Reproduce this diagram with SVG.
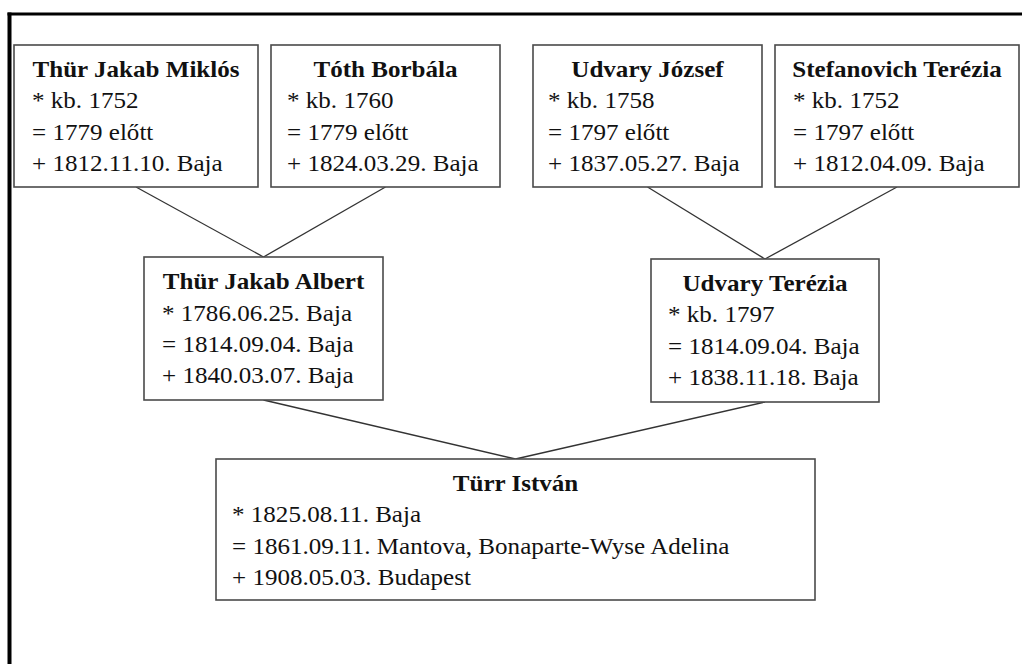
<svg xmlns="http://www.w3.org/2000/svg" width="1022" height="664" viewBox="0 0 1022 664">
<style>
.box{fill:#fff;stroke:#4a4a4a;stroke-width:1.6}
.conn line{stroke:#333;stroke-width:1.3}
text{font-family:"Liberation Serif","Times New Roman",serif;font-size:23px;fill:#111}
.t{font-weight:bold;text-anchor:middle}
.frame{stroke:#000;fill:none}
</style>
<rect width="1022" height="664" fill="#fff"/>
<line class="frame" x1="7.5" y1="14" x2="1022" y2="14" stroke-width="3.2"/>
<line class="frame" x1="9.5" y1="12.4" x2="9.5" y2="664" stroke-width="4"/>
<g id="connectors" class="conn">
<line x1="136" y1="187" x2="263.5" y2="257"/>
<line x1="385.5" y1="187" x2="263.5" y2="257"/>
<line x1="647.5" y1="187" x2="765" y2="259"/>
<line x1="897" y1="187" x2="765" y2="259"/>
<line x1="263.5" y1="400" x2="515.5" y2="459"/>
<line x1="765" y1="402" x2="515.5" y2="459"/>
</g>
<g id="n1">
<rect class="box" x="14" y="45" width="244" height="142"/>
<text class="t" transform="translate(136,77) scale(1.09,1)">Thür Jakab Miklós</text>
<text transform="translate(32,108) scale(1.09,1)">* kb. 1752</text>
<text transform="translate(32,140) scale(1.09,1)">= 1779 előtt</text>
<text transform="translate(32,171) scale(1.09,1)">+ 1812.11.10. Baja</text>
</g>
<g id="n2">
<rect class="box" x="271" y="45" width="229" height="142"/>
<text class="t" transform="translate(385.5,77) scale(1.09,1)">Tóth Borbála</text>
<text transform="translate(287,108) scale(1.09,1)">* kb. 1760</text>
<text transform="translate(287,140) scale(1.09,1)">= 1779 előtt</text>
<text transform="translate(287,171) scale(1.09,1)">+ 1824.03.29. Baja</text>
</g>
<g id="n3">
<rect class="box" x="533" y="45" width="229" height="142"/>
<text class="t" transform="translate(647.5,77) scale(1.09,1)">Udvary József</text>
<text transform="translate(548,108) scale(1.09,1)">* kb. 1758</text>
<text transform="translate(548,140) scale(1.09,1)">= 1797 előtt</text>
<text transform="translate(548,171) scale(1.09,1)">+ 1837.05.27. Baja</text>
</g>
<g id="n4">
<rect class="box" x="775" y="45" width="244" height="142"/>
<text class="t" transform="translate(897,77) scale(1.09,1)">Stefanovich Terézia</text>
<text transform="translate(793,108) scale(1.09,1)">* kb. 1752</text>
<text transform="translate(793,140) scale(1.09,1)">= 1797 előtt</text>
<text transform="translate(793,171) scale(1.09,1)">+ 1812.04.09. Baja</text>
</g>
<g id="n5">
<rect class="box" x="144" y="257" width="239" height="143"/>
<text class="t" transform="translate(263.5,289) scale(1.09,1)">Thür Jakab Albert</text>
<text transform="translate(162,321) scale(1.09,1)">* 1786.06.25. Baja</text>
<text transform="translate(162,352) scale(1.09,1)">= 1814.09.04. Baja</text>
<text transform="translate(162,383) scale(1.09,1)">+ 1840.03.07. Baja</text>
</g>
<g id="n6">
<rect class="box" x="651" y="259" width="228" height="143"/>
<text class="t" transform="translate(765,291) scale(1.09,1)">Udvary Terézia</text>
<text transform="translate(668,322) scale(1.09,1)">* kb. 1797</text>
<text transform="translate(668,354) scale(1.09,1)">= 1814.09.04. Baja</text>
<text transform="translate(668,385) scale(1.09,1)">+ 1838.11.18. Baja</text>
</g>
<g id="n7">
<rect class="box" x="216" y="459" width="599" height="141"/>
<text class="t" transform="translate(515.5,491) scale(1.09,1)">Türr István</text>
<text transform="translate(232,522) scale(1.09,1)">* 1825.08.11. Baja</text>
<text transform="translate(232,554) scale(1.09,1)">= 1861.09.11. Mantova, Bonaparte-Wyse Adelina</text>
<text transform="translate(232,585) scale(1.09,1)">+ 1908.05.03. Budapest</text>
</g>
</svg>
